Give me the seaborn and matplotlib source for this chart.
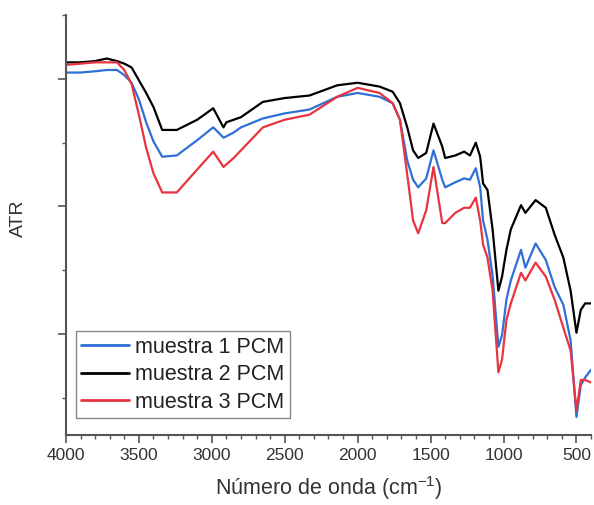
import numpy as np
import pandas as pd
import matplotlib
matplotlib.use("Agg")
import matplotlib.pyplot as plt
from matplotlib.ticker import MultipleLocator
import seaborn as sns

wavenumber = [4000, 3900, 3800, 3720, 3650, 3600, 3550, 3500, 3450, 3400,
              3340, 3240, 3100, 2990, 2920, 2900, 2850, 2800, 2650, 2500,
              2330, 2140, 2000, 1850, 1760, 1710, 1660, 1620, 1585, 1530,
              1480, 1420, 1400, 1330, 1270, 1230, 1190, 1160, 1140, 1110,
              1075, 1035, 1010, 980, 950, 880, 850, 780, 710, 650,
              590, 540, 500, 470, 440, 400]

muestra1 = [3.05, 3.05, 3.06, 3.07, 3.07, 3.03, 2.97, 2.84, 2.66, 2.51,
            2.39, 2.40, 2.52, 2.62, 2.54, 2.55, 2.58, 2.62, 2.69, 2.73,
            2.76, 2.86, 2.89, 2.86, 2.81, 2.68, 2.36, 2.21, 2.15, 2.22,
            2.44, 2.21, 2.15, 2.19, 2.22, 2.21, 2.30, 2.15, 1.89, 1.74,
            1.46, 0.90, 0.99, 1.27, 1.42, 1.66, 1.52, 1.71, 1.58, 1.37,
            1.23, 0.95, 0.35, 0.60, 0.66, 0.72]

muestra2 = [3.13, 3.13, 3.14, 3.16, 3.14, 3.12, 3.09, 2.99, 2.89, 2.78,
            2.60, 2.60, 2.68, 2.77, 2.62, 2.66, 2.68, 2.70, 2.82, 2.85,
            2.87, 2.95, 2.97, 2.94, 2.90, 2.81, 2.62, 2.44, 2.38, 2.42,
            2.65, 2.47, 2.38, 2.40, 2.43, 2.40, 2.50, 2.39, 2.18, 2.13,
            1.82, 1.34, 1.45, 1.66, 1.82, 2.01, 1.95, 2.05, 1.99, 1.78,
            1.60, 1.34, 1.01, 1.19, 1.24, 1.24]

muestra3 = [3.11, 3.12, 3.13, 3.13, 3.13, 3.07, 2.96, 2.72, 2.46, 2.26,
            2.11, 2.11, 2.29, 2.43, 2.31, 2.33, 2.38, 2.44, 2.62, 2.68,
            2.72, 2.86, 2.93, 2.89, 2.81, 2.68, 2.25, 1.89, 1.79, 1.97,
            2.31, 1.87, 1.87, 1.95, 1.99, 1.99, 2.07, 1.89, 1.70, 1.60,
            1.34, 0.70, 0.80, 1.11, 1.24, 1.48, 1.42, 1.56, 1.45, 1.27,
            1.05, 0.87, 0.40, 0.64, 0.64, 0.62]

labels = ["muestra 1 PCM", "muestra 2 PCM", "muestra 3 PCM"]
colors = ["#2f6fd8", "#000000", "#e8343f"]
x_ticks = [4000, 3500, 3000, 2500, 2000, 1500, 1000, 500]

frames = []
for lab, vals in zip(labels, [muestra1, muestra2, muestra3]):
    frames.append(pd.DataFrame({"wn": wavenumber, "atr": vals, "sample": lab}))
df = pd.concat(frames, ignore_index=True)

sns.set_style("white")
plt.rcParams["font.family"] = ["Liberation Sans", "DejaVu Sans"]
plt.rcParams["mathtext.fontset"] = "custom"
plt.rcParams["mathtext.rm"] = "Liberation Sans"
plt.rcParams["mathtext.it"] = "Liberation Sans"
plt.rcParams["mathtext.bf"] = "Liberation Sans:bold"

fig = plt.figure(figsize=(5.94, 5.05), dpi=100)
ax = fig.add_axes([0.111, 0.139, 0.884, 0.831])

sns.lineplot(data=df, x="wn", y="atr", hue="sample", hue_order=labels,
             palette=dict(zip(labels, colors)), estimator=None, sort=False,
             linewidth=1.6, ax=ax)

ax.set_xlim(4000, 400)
ax.set_ylim(0.21, 3.5)
ax.set_xticks(x_ticks)
ax.xaxis.set_minor_locator(MultipleLocator(100))
ax.yaxis.set_major_locator(MultipleLocator(1))
ax.yaxis.set_minor_locator(MultipleLocator(0.5))
ax.set_yticklabels([])
ax.tick_params(axis="both", which="major", direction="out", length=6,
               width=1.2, color="#555555", labelsize=12.5, labelcolor="#333333",
               left=True, bottom=True)
ax.tick_params(axis="both", which="minor", direction="out", length=3,
               width=1.0, color="#555555", left=True, bottom=True)

for side in ["top", "right"]:
    ax.spines[side].set_visible(False)
for side in ["left", "bottom"]:
    ax.spines[side].set_color("#555555")
    ax.spines[side].set_linewidth(1.5)

ax.set_xlabel("Número de onda (cm$^{-1}$)", fontsize=15.5, color="#333333",
              labelpad=8)
ax.set_ylabel("ATR", fontsize=14, color="#333333")
ax.yaxis.set_label_coords(-0.074, 0.517)

leg = ax.legend(loc="lower left", bbox_to_anchor=(0.019, 0.04), fontsize=15.5,
                frameon=True, fancybox=False, framealpha=1,
                edgecolor="#888888", handlelength=2.2, handletextpad=0.3,
                labelspacing=0.3, borderpad=0.25, borderaxespad=0)
leg.get_frame().set_linewidth(1.0)
for line in leg.get_lines():
    line.set_linewidth(2.0)
for t in leg.get_texts():
    t.set_color("#222222")

fig.savefig("out.png", dpi=100)
